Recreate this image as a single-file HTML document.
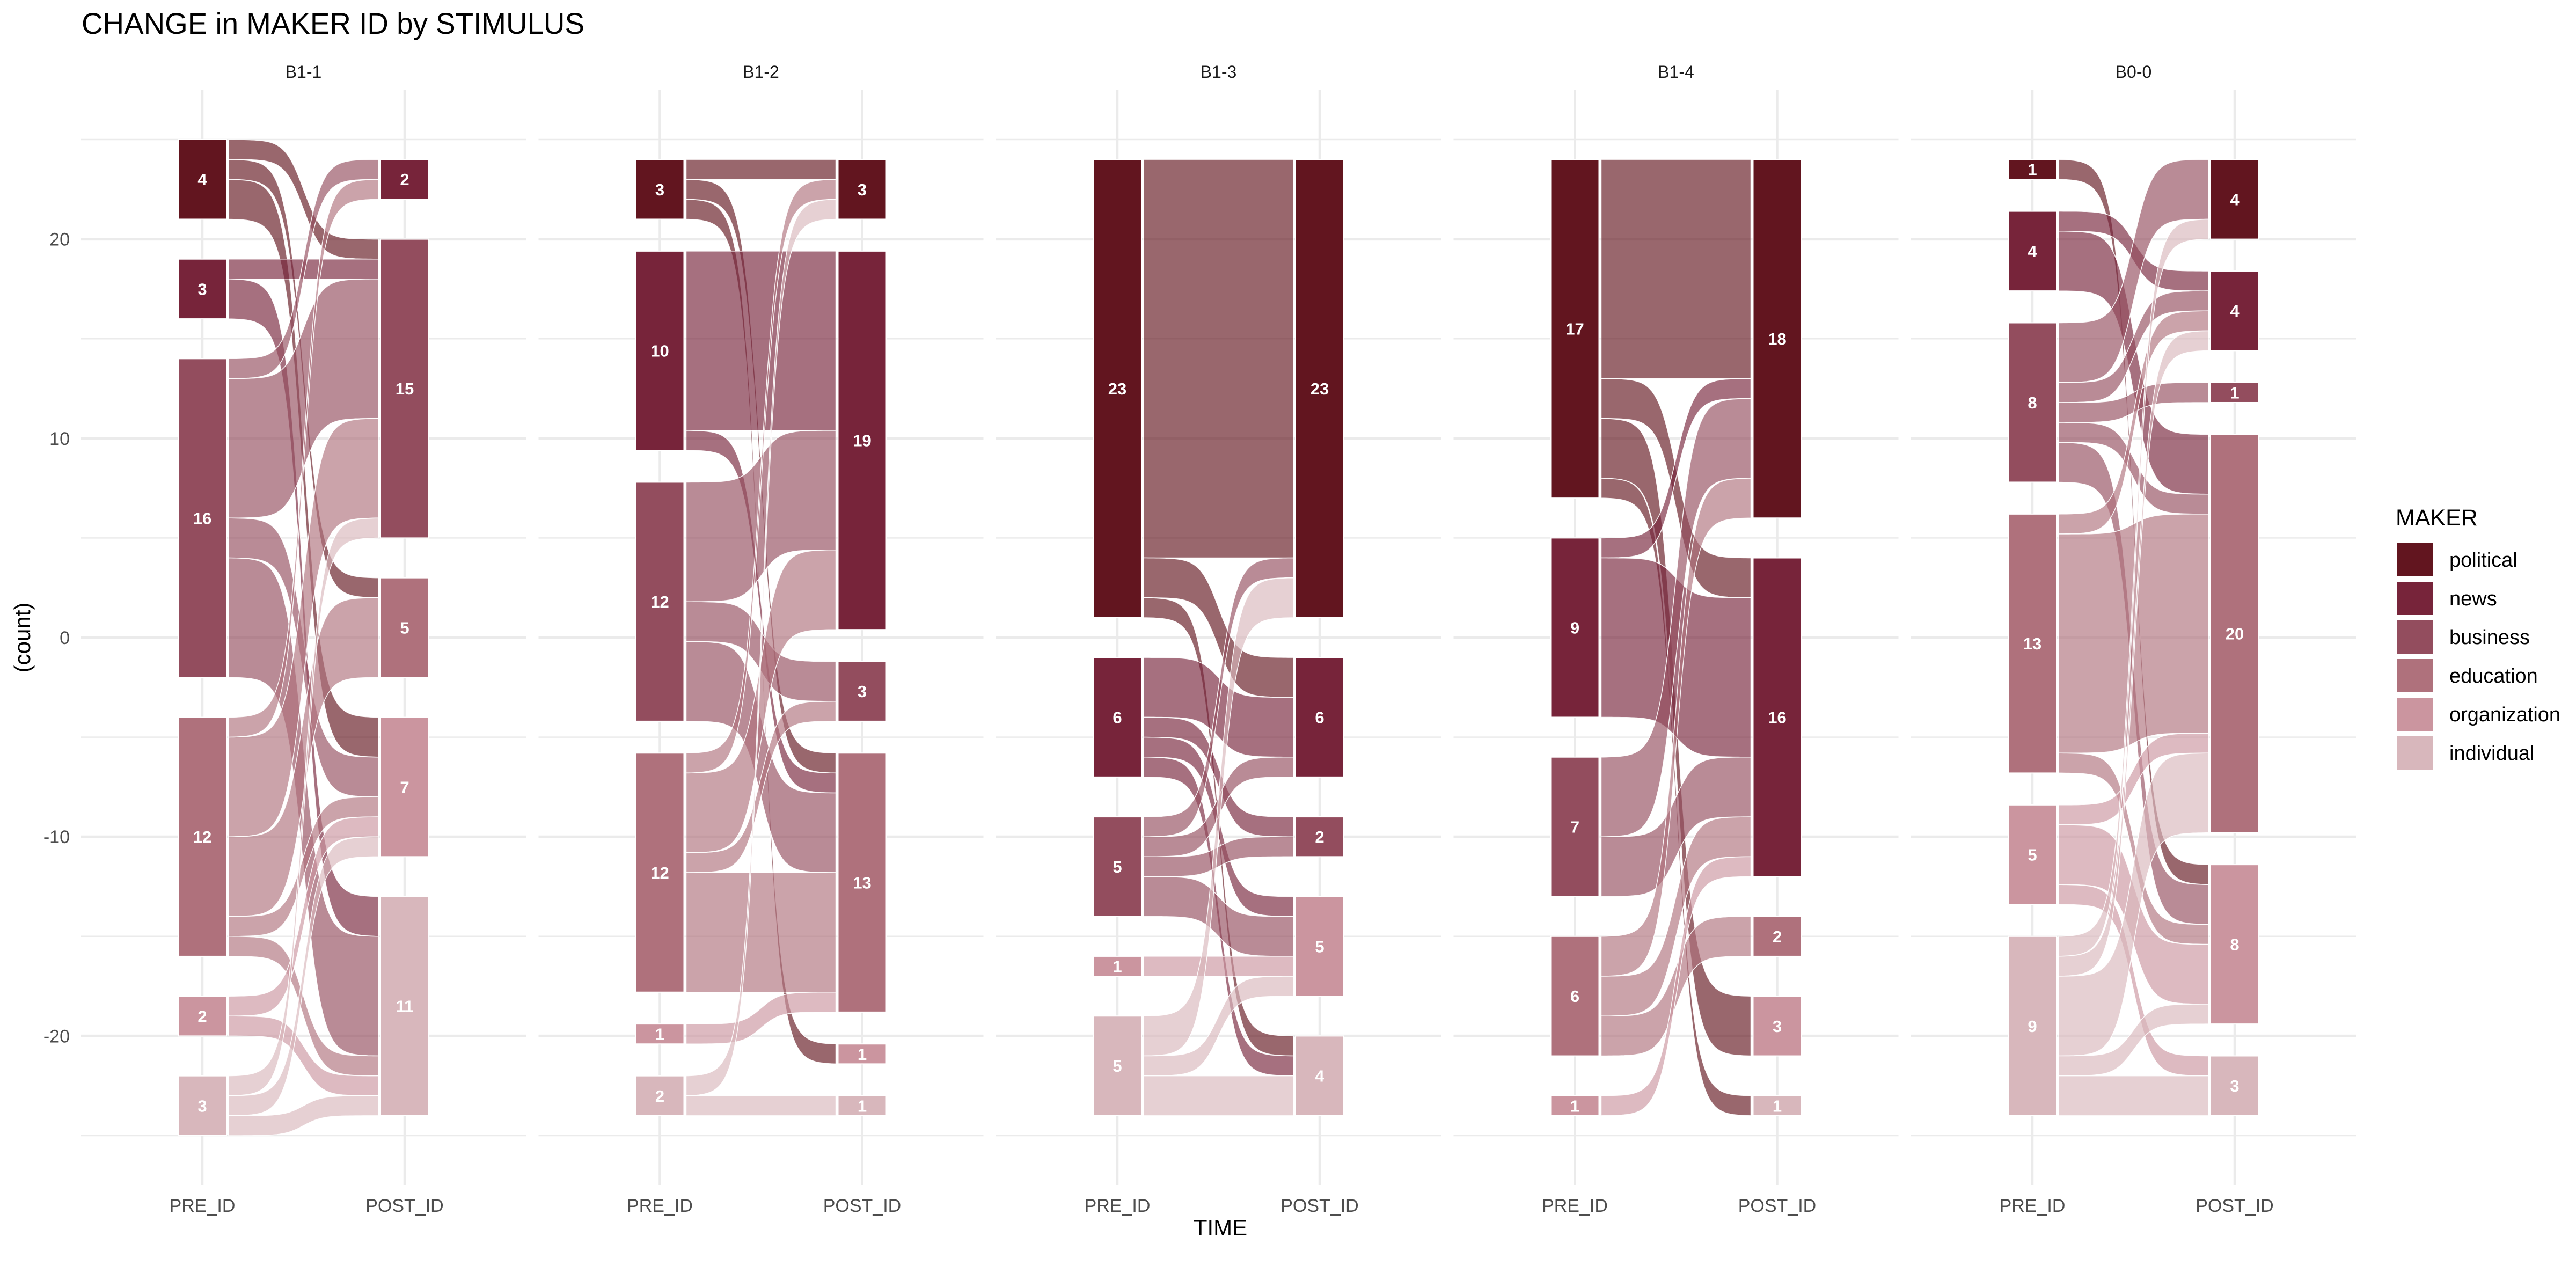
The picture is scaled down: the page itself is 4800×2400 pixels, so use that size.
<!DOCTYPE html>
<html><head><meta charset="utf-8"><title>CHANGE in MAKER ID by STIMULUS</title>
<style>
html,body{margin:0;padding:0;background:#fff;}
svg{display:block;font-family:"Liberation Sans",Arial,sans-serif;}
</style></head>
<body>
<svg id="chart" width="4800" height="2400" viewBox="0 0 4800 2400" xmlns="http://www.w3.org/2000/svg">
<rect width="4800" height="2400" fill="#fff"/>
<text x="152" y="63" font-size="56" fill="#000" textLength="937" lengthAdjust="spacingAndGlyphs">CHANGE in MAKER ID by STIMULUS</text>
<g id="grid"></g>
<g id="flows"></g>
<g id="nodes"></g>
<g id="axes"></g>
<text x="2274" y="2302" font-size="42" fill="#000" text-anchor="middle">TIME</text>
<text x="0" y="0" font-size="42" fill="#000" text-anchor="middle" transform="translate(56,1188) rotate(-90)">(count)</text>
<g id="legend">
<text x="4464" y="979" font-size="43" fill="#000">MAKER</text>
</g>
</svg>
<script>
const facets = ["B1-1","B1-2","B1-3","B1-4","B0-0"];
const categories = ["political","news","business","education","organization","individual"];
const colors = ["#62151f","#77243a","#934d5e","#af717c","#cb959f","#d8b7bc"];
const stages = ["PRE_ID","POST_ID"];
const yTicks = [20,10,0,-10,-20];
const yMinor = [25,15,5,-5,-15,-25];
const gaps = [2,1.6,2,2,1.6];
// flows: [from category index, to category index, count]
const flowsB11 = [[0,2,1],[0,3,1],[0,4,2],[1,2,1],[1,5,2],[2,1,1],[2,2,7],[2,4,2],[2,5,6],[3,1,1],[3,2,5],[3,3,4],[3,4,1],[3,5,1],[4,4,1],[4,5,1],[5,2,1],[5,4,1],[5,5,1]];
const flowsB12 = [[0,0,1],[0,3,1],[0,4,1],[1,1,9],[1,3,1],[2,1,6],[2,2,2],[2,3,4],[3,0,1],[3,1,4],[3,2,1],[3,3,6],[4,3,1],[5,0,1],[5,5,1]];
const flowsB13 = [[0,0,20],[0,1,2],[0,5,1],[1,1,3],[1,2,1],[1,4,1],[1,5,1],[2,0,1],[2,1,1],[2,2,1],[2,4,2],[4,4,1],[5,0,2],[5,4,1],[5,5,2]];
const flowsB14 = [[0,0,11],[0,1,2],[0,4,3],[0,5,1],[1,0,1],[1,1,8],[2,0,4],[2,1,3],[3,0,2],[3,1,2],[3,3,2],[4,1,1]];
const flowsB00 = [[0,4,1],[1,1,1],[1,3,3],[2,0,3],[2,1,1],[2,2,1],[2,3,1],[2,4,2],[3,1,1],[3,3,11],[3,4,1],[4,3,1],[4,4,3],[4,5,1],[5,0,1],[5,1,1],[5,3,4],[5,4,1],[5,5,2]];
const facetFlows = [flowsB11,flowsB12,flowsB13,flowsB14,flowsB00];

const NS="http://www.w3.org/2000/svg";
const Y0=1188, PXU=37.12;
function yScale(v){return Y0 - v*PXU;}
function preX(f){return 377 + f*852.5;}
function postX(f){return preX(f)+377;}
const BOXW=90, PTOP=167, PBOT=2209;
function mk(tag,attrs,parent){const e=document.createElementNS(NS,tag);for(const k in attrs)e.setAttribute(k,attrs[k]);parent.appendChild(e);return e;}
const grid=document.getElementById('grid'), flowsG=document.getElementById('flows'), nodesG=document.getElementById('nodes'), axes=document.getElementById('axes'), legend=document.getElementById('legend');

function sig(t){return 1/(1+Math.exp(-t));}
const S0=sig(-8),S1=sig(8);
function curve(x0,x1,ya,yb,n,rev){const pts=[];for(let i=0;i<n;i++){const u=i/(n-1);const s=(sig(-8+16*u)-S0)/(S1-S0);pts.push([x0+(x1-x0)*u, ya+(yb-ya)*s]);}if(rev)pts.reverse();return pts;}

facets.forEach((name,f)=>{
  const left=preX(f)-226, right=left+829;
  yMinor.forEach(v=>{const l=mk('line',{x1:left,x2:right,y1:yScale(v),y2:yScale(v),stroke:'#ebebeb','stroke-width':2.5},grid);
    
    });
  yTicks.forEach(v=>{const l=mk('line',{x1:left,x2:right,y1:yScale(v),y2:yScale(v),stroke:'#ebebeb','stroke-width':5},grid);
    
    });
  [preX(f),postX(f)].forEach(x=>{const l=mk('line',{x1:x,x2:x,y1:PTOP,y2:PBOT,stroke:'#ebebeb','stroke-width':4.5},grid);
    
    });
  const st=mk('text',{x:(preX(f)+postX(f))/2,y:145,'font-size':32,'text-anchor':'middle',fill:'#1a1a1a'},axes);
  st.textContent=name;
  
  
  stages.forEach((s,i)=>{const t=mk('text',{x:i?postX(f):preX(f),y:2258,'font-size':34,'text-anchor':'middle',fill:'#4d4d4d'},axes);
    t.textContent=s;
    
    });

  const fl=facetFlows[f], g=gaps[f];
  const pre=categories.map((c,i)=>fl.filter(d=>d[0]===i).reduce((a,d)=>a+d[2],0));
  const post=categories.map((c,i)=>fl.filter(d=>d[1]===i).reduce((a,d)=>a+d[2],0));
  function stack(counts){const idx=counts.map((c,i)=>i).filter(i=>counts[i]>0);const tot=idx.reduce((a,i)=>a+counts[i],0)+g*(idx.length-1);let top=tot/2;const res={};idx.forEach(i=>{res[i]=[top,top-counts[i]];top-=counts[i]+g;});return res;}
  const preS=stack(pre), postS=stack(post);
  const preCur={}, postCur={};
  for(const k in preS)preCur[k]=preS[k][0];
  for(const k in postS)postCur[k]=postS[k][0];
  const preSorted=fl.slice().sort((a,b)=>a[0]-b[0]||a[1]-b[1]);
  const segs=new Map();
  preSorted.forEach(d=>{const t=preCur[d[0]];preCur[d[0]]-=d[2];segs.set(d,[t,t-d[2]]);});
  const postSorted=fl.slice().sort((a,b)=>a[1]-b[1]||a[0]-b[0]);
  const segs2=new Map();
  postSorted.forEach(d=>{const t=postCur[d[1]];postCur[d[1]]-=d[2];segs2.set(d,[t,t-d[2]]);});
  const x0=preX(f)+BOXW/2+4, x1=postX(f)-BOXW/2-4;
  preSorted.forEach(d=>{
    const a=segs.get(d), b=segs2.get(d);
    const top=curve(x0,x1,yScale(a[0]),yScale(b[0]),60,false);
    const bot=curve(x0,x1,yScale(a[1]),yScale(b[1]),60,true);
    const pts=top.concat(bot).map(p=>p[0].toFixed(1)+','+p[1].toFixed(1)).join(' ');
    const p=mk('polygon',{points:pts,fill:colors[d[0]],'fill-opacity':0.65,stroke:'#fff','stroke-width':1.5,'stroke-opacity':0.9},flowsG);
    
    
  });
  [[preS,pre,preX(f),'pre'],[postS,post,postX(f),'post']].forEach(([S,counts,cx,lab])=>{
    for(const k in S){
      const [t,b]=S[k];
      const r=mk('rect',{x:cx-BOXW/2,y:yScale(t),width:BOXW,height:yScale(b)-yScale(t),fill:colors[k],stroke:'#fff','stroke-width':2},nodesG);
      
      
      const tx=mk('text',{x:cx,y:(yScale(t)+yScale(b))/2+11,'font-size':31,'font-weight':'bold','text-anchor':'middle',fill:'#fff'},nodesG);
      tx.textContent=counts[k];
      
      
    }
  });
});
yTicks.forEach(v=>{const t=mk('text',{x:130,y:yScale(v)+12,'font-size':34,'text-anchor':'end',fill:'#4d4d4d'},axes);
  t.textContent=v;
  
  });
categories.forEach((c,i)=>{
  const y=1012+i*72;
  const r=mk('rect',{x:4467,y:y,width:66,height:62,fill:colors[i]},legend);
  
  
  const t=mk('text',{x:4564,y:y+44,'font-size':38,fill:'#000'},legend);
  t.textContent=c;
  
  
});
</script>
</body></html>
